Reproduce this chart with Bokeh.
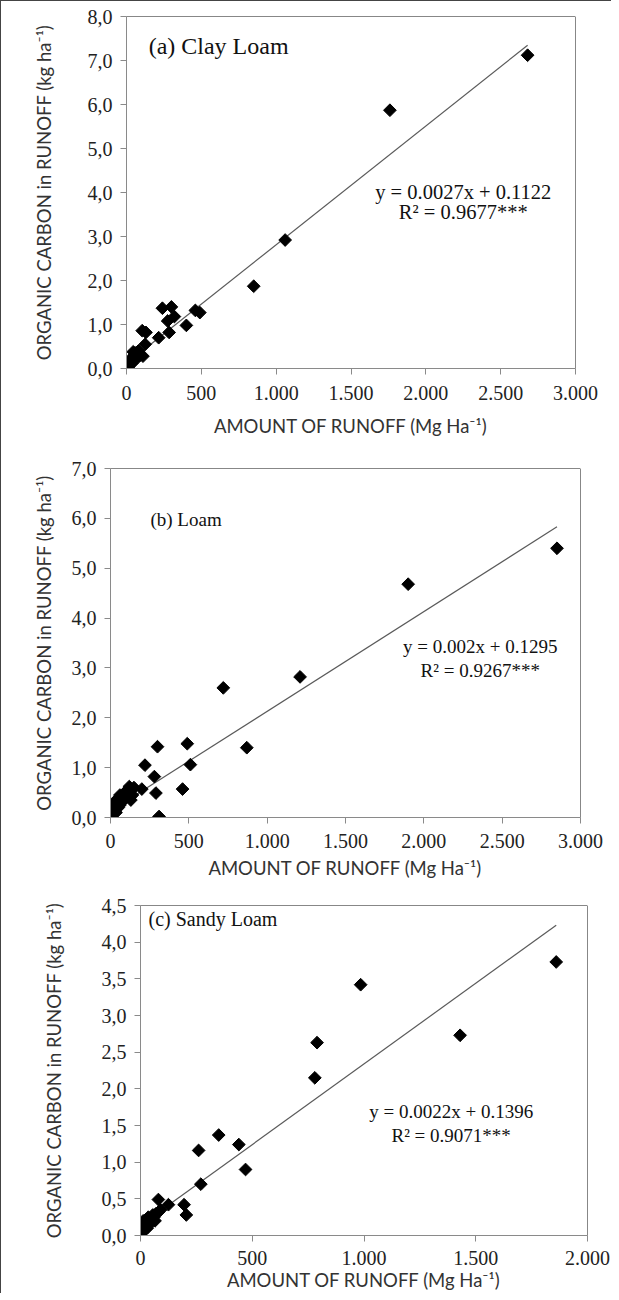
import math
from bokeh.plotting import figure
from bokeh.layouts import column
from bokeh.models import FixedTicker, CustomJSTickFormatter, Span, Label, Range1d
from bokeh.embed import file_html
from bokeh.resources import INLINE

# ---------------- data ----------------
# (a) Clay Loam
clay_x = [2680, 1760, 1060, 850, 490, 460, 400, 320, 300, 275, 285, 240, 215,
          130, 105, 125, 110, 90, 80, 70, 60, 55, 50, 45, 40, 35, 30, 25, 20,
          15, 12, 10, 8, 5]
clay_y = [7.12, 5.87, 2.92, 1.87, 1.27, 1.32, 0.98, 1.18, 1.40, 1.08, 0.82,
          1.37, 0.70, 0.82, 0.86, 0.55, 0.28, 0.30, 0.40, 0.28, 0.35, 0.18,
          0.30, 0.38, 0.25, 0.12, 0.20, 0.15, 0.08, 0.10, 0.03, 0.05, 0.00, 0.02]
clay_eq = "y = 0.0027x + 0.1122"
clay_r2 = "R² = 0.9677***"
clay_fit = (0.0027, 0.1122)

# (b) Loam
loam_x = [2850, 1900, 1210, 720, 870, 300, 490, 220, 510, 280, 200, 290, 460,
          310, 150, 140, 130, 120, 110, 100, 90, 80, 70, 60, 55, 50, 45, 40,
          35, 30, 25, 20, 20, 15, 10, 5, 60]
loam_y = [5.40, 4.68, 2.82, 2.60, 1.40, 1.42, 1.48, 1.05, 1.06, 0.82, 0.57,
          0.49, 0.57, 0.02, 0.60, 0.45, 0.35, 0.62, 0.55, 0.40, 0.50, 0.35,
          0.30, 0.45, 0.40, 0.20, 0.35, 0.30, 0.10, 0.25, 0.20, 0.15, 0.30,
          0.10, 0.05, 0.00, 0.25]
loam_eq = "y = 0.002x + 0.1295"
loam_r2 = "R² = 0.9267***"
loam_fit = (0.002, 0.1295)

# (c) Sandy Loam
sandy_x = [1860, 1430, 985, 790, 780, 260, 350, 440, 470, 270, 80, 125, 195,
           205, 90, 80, 70, 65, 60, 55, 50, 45, 40, 35, 30, 30, 25, 20, 20,
           15, 12, 10, 8, 5, 0]
sandy_y = [3.73, 2.73, 3.42, 2.63, 2.15, 1.16, 1.37, 1.24, 0.90, 0.70, 0.49,
           0.42, 0.42, 0.28, 0.35, 0.32, 0.30, 0.20, 0.25, 0.28, 0.20, 0.22,
           0.15, 0.25, 0.20, 0.10, 0.22, 0.18, 0.08, 0.12, 0.20, 0.15, 0.10,
           0.05, 0.00]
sandy_eq = "y = 0.0022x + 0.1396"
sandy_r2 = "R² = 0.9071***"
sandy_fit = (0.0022, 0.1396)

x_ticks_3000 = [0, 500, 1000, 1500, 2000, 2500, 3000]
x_ticks_2000 = [0, 500, 1000, 1500, 2000]
y_ticks_a = [0, 1, 2, 3, 4, 5, 6, 7, 8]
y_ticks_b = [0, 1, 2, 3, 4, 5, 6, 7]
y_ticks_c = [0, 0.5, 1.0, 1.5, 2.0, 2.5, 3.0, 3.5, 4.0, 4.5]

x_title = "AMOUNT OF RUNOFF (Mg Ha⁻¹)"
y_title = "ORGANIC CARBON in RUNOFF (kg ha⁻¹)"

SERIF = "Liberation Serif"
SANS = "Lato"
AXIS_GRAY = "#8a8a8a"

yfmt = CustomJSTickFormatter(code="return tick.toFixed(1).replace('.', ',');")
xfmt = CustomJSTickFormatter(
    code="return Math.round(tick).toString().replace(/\\B(?=(\\d{3})+(?!\\d))/g, '.');")


def panel(xs, ys, fit, eq, r2, label, xticks, yticks,
          bl, fw, br, bt, fh, bb, lab_xy, eq_xy, r2_xy, ytitle_off,
          xlab_off, xtitle_off, lab_fs, eq_fs):
    xmax, ymax = xticks[-1], yticks[-1]
    p = figure(frame_width=fw, frame_height=fh,
               min_border_left=bl, min_border_right=br,
               min_border_top=bt, min_border_bottom=bb,
               x_range=Range1d(0, xmax), y_range=Range1d(0, ymax),
               output_backend="svg", toolbar_location=None,
               background_fill_color="white", border_fill_color="white")
    p.outline_line_color = None
    p.grid.visible = False

    for ax in (p.xaxis[0], p.yaxis[0]):
        ax.axis_line_color = AXIS_GRAY
        ax.major_tick_line_color = AXIS_GRAY
        ax.minor_tick_line_color = None
        ax.major_tick_in = 0
        ax.major_tick_out = 6
        ax.major_label_text_font = SERIF
        ax.major_label_text_font_size = "20px"
        ax.major_label_text_color = "#222222"
        ax.axis_label_text_font = SANS
        ax.axis_label_text_font_style = "normal"
        ax.axis_label_text_color = "#333333"

    p.xaxis[0].axis_label_text_font_size = "18.5px"
    p.yaxis[0].axis_label_text_font_size = "18.5px"
    p.xaxis[0].ticker = FixedTicker(ticks=xticks)
    p.yaxis[0].ticker = FixedTicker(ticks=yticks)
    p.xaxis[0].formatter = xfmt
    p.yaxis[0].formatter = yfmt
    p.xaxis[0].axis_label = x_title
    p.yaxis[0].axis_label = y_title
    p.xaxis[0].major_label_standoff = xlab_off
    p.xaxis[0].axis_label_standoff = xtitle_off
    p.yaxis[0].major_label_standoff = 8
    p.yaxis[0].axis_label_standoff = ytitle_off

    p.add_layout(Span(location=ymax, dimension="width", line_color="#111111", line_width=1))
    p.add_layout(Span(location=xmax, dimension="height", line_color="#111111", line_width=1))

    slope, icpt = fit
    x0, x1 = 0, max(xs)
    p.line([x0, x1], [slope * x0 + icpt, slope * x1 + icpt],
           line_color="#5a5a5a", line_width=1.2)

    p.scatter(xs, ys, marker="square", size=9, angle=math.pi / 4,
              fill_color="black", line_color="black")

    p.add_layout(Label(x=lab_xy[0], y=lab_xy[1], text=label, text_font=SERIF,
                       text_font_size=lab_fs, text_color="#111111",
                       text_align="left", text_baseline="middle"))
    p.add_layout(Label(x=eq_xy[0], y=eq_xy[1], text=eq, text_font=SERIF,
                       text_font_size=eq_fs, text_color="#111111",
                       text_align="center", text_baseline="middle"))
    p.add_layout(Label(x=r2_xy[0], y=r2_xy[1], text=r2, text_font=SERIF,
                       text_font_size=eq_fs, text_color="#111111",
                       text_align="center", text_baseline="middle"))
    return p


pa = panel(clay_x, clay_y, clay_fit, clay_eq, clay_r2, "(a) Clay Loam",
           x_ticks_3000, y_ticks_a,
           bl=125, fw=449, br=36, bt=15, fh=352, bb=60,
           lab_xy=(148, 7.32), eq_xy=(2250, 4.02), r2_xy=(2250, 3.56),
           ytitle_off=30, xlab_off=11, xtitle_off=12, lab_fs="24px", eq_fs="20.5px")
pb = panel(loam_x, loam_y, loam_fit, loam_eq, loam_r2, "(b) Loam",
           x_ticks_3000, y_ticks_b,
           bl=109, fw=470, br=31, bt=29, fh=349, bb=55,
           lab_xy=(255, 5.97), eq_xy=(2360, 3.42), r2_xy=(2360, 2.95),
           ytitle_off=14, xlab_off=10, xtitle_off=6, lab_fs="19px", eq_fs="19px")
pc = panel(sandy_x, sandy_y, sandy_fit, sandy_eq, sandy_r2, "(c) Sandy Loam",
           x_ticks_2000, y_ticks_c,
           bl=139, fw=447, br=24, bt=24, fh=330, bb=50,
           lab_xy=(36, 4.31), eq_xy=(1390, 1.69), r2_xy=(1390, 1.37),
           ytitle_off=34, xlab_off=9, xtitle_off=1, lab_fs="20px", eq_fs="19px")

layout = column(column(pa), column(pb), column(pc), spacing=0,
                styles={"border-left": "1px solid #444", "border-top": "1px solid #444"})

open("out.html", "w").write(file_html(layout, INLINE))
